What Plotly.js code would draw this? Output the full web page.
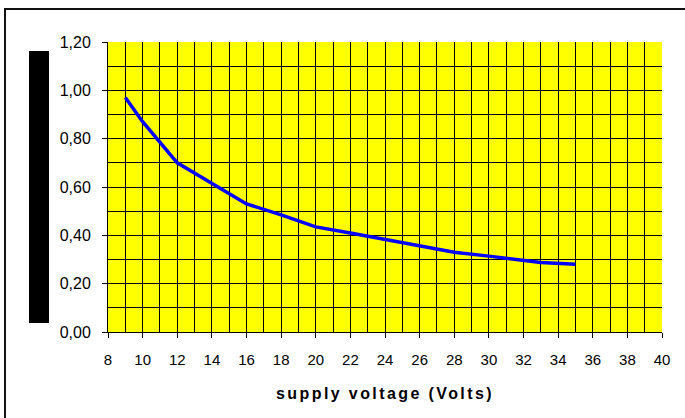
<!DOCTYPE html>
<html>
<head>
<meta charset="utf-8">
<script src="https://cdn.plot.ly/plotly-3.0.1.min.js"></script>
<style>
  html, body { margin: 0; padding: 0; background: #fff; }
  #wrap { position: relative; width: 685px; height: 418px; overflow: hidden; }
  #chart { width: 685px; height: 418px; }
  #frame { position: absolute; left: 4px; top: 8px; width: 720px; height: 440px;
           border-left: 2px solid #111; border-top: 2px solid #111; pointer-events: none; }
  .xtitle { letter-spacing: 2.4px; }
</style>
</head>
<body>
<div id="wrap">
  <div id="chart"></div>
  <div id="frame"></div>
</div>
<script>
const voltage = [9, 10, 12, 14, 16, 18, 20, 22, 24, 26, 28, 30, 32, 33, 35];
const current = [0.97, 0.87, 0.70, 0.615, 0.53, 0.485, 0.435, 0.41, 0.383, 0.357, 0.33, 0.314, 0.298, 0.288, 0.28];
const xTitle = 'supply voltage (Volts)';

const trace = {
  x: voltage,
  y: current,
  type: 'scatter',
  mode: 'lines',
  line: { color: '#0000FF', width: 3.5 },
  hoverinfo: 'skip'
};

const layout = {
  width: 685,
  height: 418,
  margin: { l: 108, r: 23, t: 42, b: 86 },
  paper_bgcolor: '#FFFFFF',
  plot_bgcolor: '#FFFF00',
  separators: ',.',
  showlegend: false,
  font: { family: 'Liberation Sans, Arial, sans-serif', size: 15, color: '#000' },
  xaxis: {
    range: [8, 40],
    dtick: 2,
    tick0: 8,
    showgrid: true,
    gridcolor: '#000',
    gridwidth: 1,
    zeroline: false,
    showline: true,
    linecolor: '#000',
    linewidth: 1,
    ticks: 'outside',
    ticklen: 5,
    tickcolor: '#000',
    tickfont: { size: 15 },
    ticklabelstandoff: 9,
    minor: { dtick: 1, showgrid: true, gridcolor: '#000', gridwidth: 1, ticks: '' },
    title: { text: '<b>' + xTitle + '</b>', font: { size: 16 }, standoff: 20 },
    fixedrange: true
  },
  yaxis: {
    range: [0, 1.2],
    dtick: 0.2,
    tick0: 0,
    tickformat: '.2f',
    showgrid: true,
    gridcolor: '#000',
    gridwidth: 1,
    zeroline: false,
    showline: true,
    linecolor: '#000',
    linewidth: 1,
    ticks: 'outside',
    ticklen: 5,
    tickcolor: '#000',
    tickfont: { size: 16 },
    ticklabelstandoff: 8,
    minor: { dtick: 0.1, showgrid: true, gridcolor: '#000', gridwidth: 1, ticks: '' },
    fixedrange: true
  },
  shapes: [
    { type: 'rect', xref: 'paper', yref: 'paper',
      x0: -0.1426, x1: -0.1065, y0: 0.031, y1: 0.969,
      fillcolor: '#000', line: { width: 0 }, layer: 'above' }
  ]
};

Plotly.newPlot('chart', [trace], layout, { displayModeBar: false, staticPlot: true });
</script>
</body>
</html>
